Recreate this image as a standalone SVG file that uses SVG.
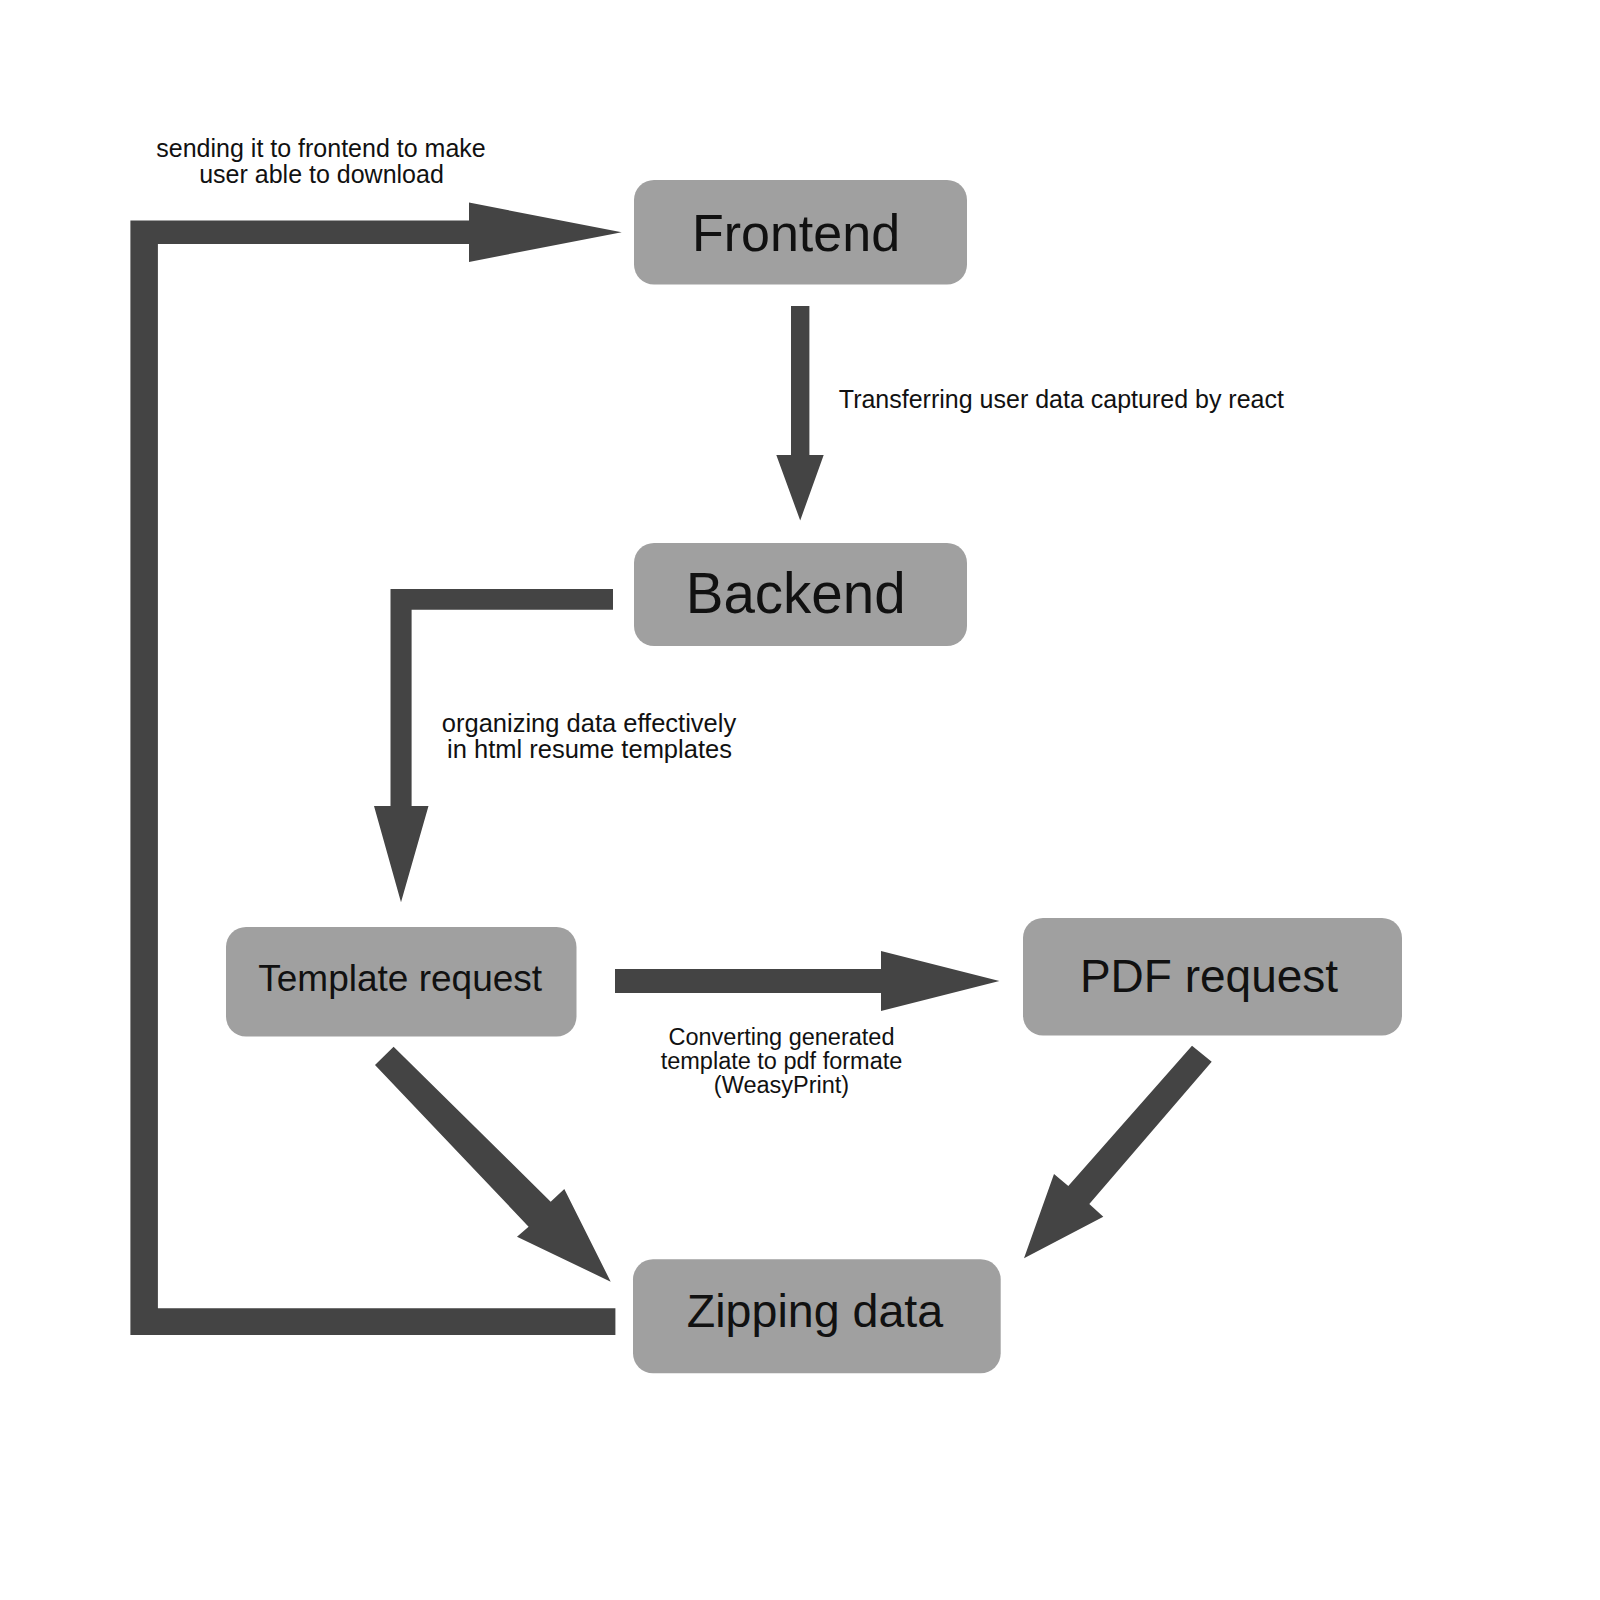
<svg xmlns="http://www.w3.org/2000/svg" width="1600" height="1600" viewBox="0 0 1600 1600">
  <style>
    .box { fill: #a0a0a0; }
    .arrow { fill: #444444; }
    .txt { font-family: "Liberation Sans", Arial, Helvetica, sans-serif; fill: #111111; text-anchor: middle; }
    .lbl { font-family: "Liberation Sans", Arial, Helvetica, sans-serif; fill: #111111; }
  </style>
  <rect width="1600" height="1600" fill="#ffffff"/>

  <g id="connectors">
    <polygon class="arrow" points="615.4,1335 130.4,1335 130.4,220.5 469,220.5 469,202.6 621.7,232.3 469,261.9 469,244 157.9,244 157.9,1308.3 615.4,1308.3"/>
    <polygon class="arrow" points="791,306 809.4,306 809.4,455 823.7,455 800.2,520.5 776.3,455 791,455"/>
    <polygon class="arrow" points="613,589 390.5,589 390.5,806 374,806 401,902.3 428.5,806 411.6,806 411.6,609.7 613,609.7"/>
    <polygon class="arrow" points="615,969 881,969 881,951 999.4,981 881,1011 881,993 615,993"/>
    <polygon class="arrow" points="375,1065 393.6,1046.7 550.7,1201.7 564.3,1189 610.7,1281.7 517,1236.7 528.6,1226.7"/>
    <polygon class="arrow" points="1192,1045.7 1211.7,1061.7 1089.3,1204 1103.3,1216.7 1024,1258.3 1054,1174 1068.3,1186"/>
    <g id="connector-labels">
      <text class="lbl" x="321" y="157" font-size="25" text-anchor="middle">sending it to frontend to make</text>
      <text class="lbl" x="321.5" y="183" font-size="25" text-anchor="middle">user able to download</text>
      <text class="lbl" x="838.8" y="408" font-size="25">Transferring user data captured by react</text>
      <text class="lbl" x="589" y="732" font-size="25.5" text-anchor="middle">organizing data effectively</text>
      <text class="lbl" x="589.5" y="758" font-size="25.5" text-anchor="middle">in html resume templates</text>
      <text class="lbl" x="781.5" y="1044.5" font-size="23.5" text-anchor="middle">Converting generated</text>
      <text class="lbl" x="781.5" y="1068.5" font-size="23.5" text-anchor="middle">template to pdf formate</text>
      <text class="lbl" x="781.5" y="1092.5" font-size="23.5" text-anchor="middle">(WeasyPrint)</text>
    </g>
  </g>

  <g id="node-frontend">
    <rect class="box" x="634" y="180" width="333" height="104.5" rx="20" ry="20"/>
    <text class="txt" x="796" y="251" font-size="52">Frontend</text>
  </g>
  <g id="node-backend">
    <rect class="box" x="634" y="543" width="333" height="103" rx="20" ry="20"/>
    <text class="txt" x="795.7" y="613.4" font-size="56.5">Backend</text>
  </g>
  <g id="node-template-request">
    <rect class="box" x="226" y="927" width="350.5" height="109.5" rx="20" ry="20"/>
    <text class="txt" x="400.2" y="991" font-size="37">Template request</text>
  </g>
  <g id="node-pdf-request">
    <rect class="box" x="1023" y="918" width="379" height="117.5" rx="20" ry="20"/>
    <text class="txt" x="1209" y="992" font-size="46">PDF request</text>
  </g>
  <g id="node-zipping-data">
    <rect class="box" x="633" y="1259.3" width="367.7" height="114" rx="20" ry="20"/>
    <text class="txt" x="815" y="1327.3" font-size="46.6">Zipping data</text>
  </g>
</svg>
